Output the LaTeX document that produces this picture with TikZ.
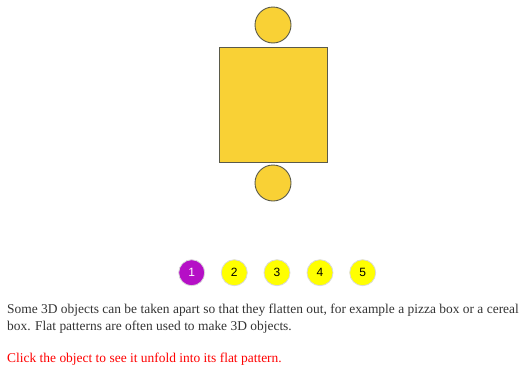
\documentclass[tikz,border=0pt]{standalone}
\usepackage{fontspec}
\setmainfont{Liberation Serif}
\newfontfamily\numfont{Liberation Sans}
\definecolor{shapefill}{HTML}{F9D135}
\definecolor{shapeline}{HTML}{5A5A4A}
\definecolor{btnpurple}{HTML}{B50FC6}
\definecolor{btnyellow}{HTML}{FFFF00}
\definecolor{bodytext}{HTML}{333333}
\definecolor{redtext}{HTML}{FF0000}
\begin{document}
\begin{tikzpicture}[x=1pt,y=-1pt,
  part/.style={draw=shapeline,fill=shapefill,line width=0.9pt},
  btn/.style={circle,minimum size=26pt,inner sep=0pt,draw=black!15,line width=0.8pt,font=\numfont\fontsize{12}{14}\selectfont},
  para/.style={anchor=base west,inner sep=0pt,text=bodytext,font=\fontsize{13.45}{17}\selectfont}]
\useasboundingbox (0,0) rectangle (530,367);
% net
\node[part,circle,minimum size=36pt,inner sep=0pt] (topc) at (273,25) {};
\node[part,rectangle,minimum width=108pt,minimum height=114.5pt,inner sep=0pt] (rect) at (273.5,105) {};
\node[part,circle,minimum size=36pt,inner sep=0pt] (botc) at (273,183) {};
% buttons
\node[btn,fill=btnpurple,text=white] (b1) at (191.7,272.7) {1};
\node[btn,fill=btnyellow] (b2) at (234.3,272.7) {2};
\node[btn,fill=btnyellow] (b3) at (277,272.7) {3};
\node[btn,fill=btnyellow] (b4) at (320,272.7) {4};
\node[btn,fill=btnyellow] (b5) at (362.7,272.7) {5};
% text
\node[para] (l1) at (7,313) {Some 3D objects can be taken apart so that they flatten out, for example a pizza box or a cereal};
\node[para] (l2) at (7,330) {box. Flat patterns are often used to make 3D objects.};
\node[para,text=redtext] (l3) at (7,362) {Click the object to see it unfold into its flat pattern.};
\end{tikzpicture}
\end{document}
